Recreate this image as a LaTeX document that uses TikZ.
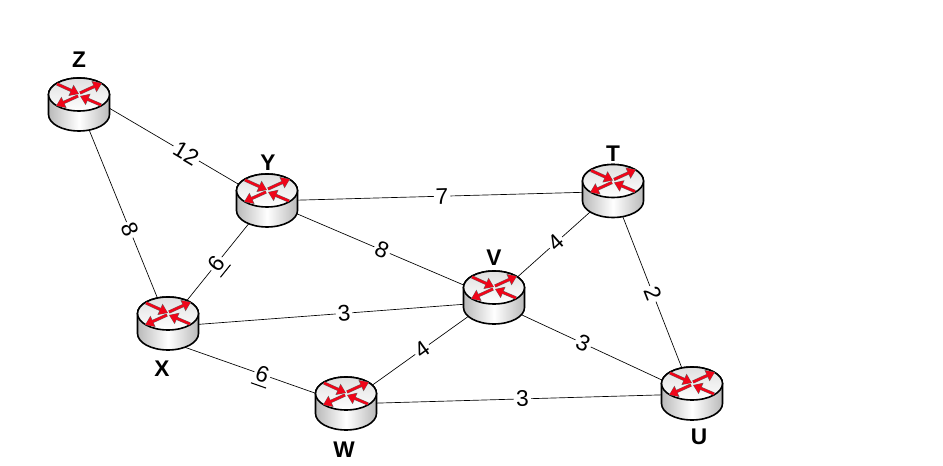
\documentclass[tikz,border=0pt]{standalone}
\usepackage{fontspec}
\setmainfont{Liberation Sans}
\usetikzlibrary{arrows.meta}

\definecolor{routerred}{RGB}{240,5,25}
\newcommand{\lowbar}[1]{\smash{\makebox[0pt][l]{\hspace{-1.3pt}\raisebox{-3.2pt}{\rule{12pt}{.8pt}}}}#1}
\tikzset{
    hop/.style={sloped, fill=white, inner sep=1.5pt, font=\fontsize{17}{17}\selectfont},
    link/.style={draw, line width=.5pt},
    tag/.style={font=\fontsize{17}{17}\selectfont\bfseries},
    spot/.style={inner sep=0pt, minimum width=45pt, minimum height=39pt},
    router/.pic={
        \draw [line width=1.2pt, left color=gray!55, right color=gray!55, middle color=white]
            (-30.5,-10.5) -- (-30.5,9.5) arc [start angle=180, end angle=360, x radius=30.5, y radius=-16.5]
            -- (30.5,-10.5) arc [start angle=0, end angle=180, x radius=30.5, y radius=-16.5] -- cycle;
        \draw [line width=1.2pt, top color=gray!25, bottom color=white]
            (0,-10.5) ellipse [x radius=30.5, y radius=16.5];
        \foreach \tail/\tip in {{-22,-21}/{0,-11}, {1,-12}/{23,-22}, {-1,-9}/{-23,1}, {22,0}/{1,-9}} {
            \draw [line width=2.4pt, -{Triangle[length=6.6pt, width=8.8pt]}, black!60] (\tail) -- (\tip);
            \draw [line width=1.8pt, -{Triangle[length=5.8pt, width=7.6pt]}, routerred, shorten >=.4pt] (\tail) -- (\tip);
        }
    }
}

\begin{document}
\begin{tikzpicture}[x=.75pt, y=-.75pt]
    \useasboundingbox (0,0) rectangle (943,466);

    \node (Z) [spot] at (79,105) {};
    \node (Y) [spot] at (267,201) {};
    \node (T) [spot] at (613,191.5) {};
    \node (V) [spot] at (494,298) {};
    \node (X) [spot] at (168,324) {};
    \node (W) [spot] at (346,404) {};
    \node (U) [spot] at (692,394) {};

    % links run centre to centre, the routers cover their ends
    \draw [link] ([yshift=11pt]Z.center) -- node [hop, pos=.57] {12} (Y.center);
    \draw [link] (Z.center) -- node [hop, pos=.57] {8} (X.center);
    \draw [link] (X.center) -- node [hop, pos=.49] {\lowbar{6}} (Y.center);
    \draw [link] (Y.center) -- node [hop, pos=.506] {7} (T.center);
    \draw [link] (Y.center) -- node [hop, pos=.507] {8} (V.center);
    \draw [link] (V.center) -- node [hop, pos=.52] {4} (T.center);
    \draw [link] (T.center) -- node [hop, pos=.505] {2} (U.center);
    \draw [link] ([yshift=-2pt]X.center) -- node [hop, pos=.54] {3} ([yshift=-3pt]V.center);
    \draw [link] ([yshift=-3pt]V.center) -- node [hop, pos=.45] {3} (U.center);
    \draw [link] (W.center) -- node [hop, pos=.514] {4} (V.center);
    \draw [link] ([yshift=-13pt]X.center) -- node [hop, pos=.53] {\lowbar{6}} (W.center);
    \draw [link] (W.center) -- node [hop, pos=.51] {3} (U.center);

    \foreach \name in {Z, Y, T, V, X, W, U}
        \pic at (\name) {router};

    \node (tagZ) [tag] at (79,60) {Z};
    \node (tagY) [tag] at (268,163) {Y};
    \node (tagT) [tag] at (613,154) {T};
    \node (tagV) [tag] at (494,258) {V};
    \node (tagX) [tag] at (162,369) {X};
    \node (tagW) [tag] at (344,450) {W};
    \node (tagU) [tag] at (699,437) {U};
\end{tikzpicture}
\end{document}
